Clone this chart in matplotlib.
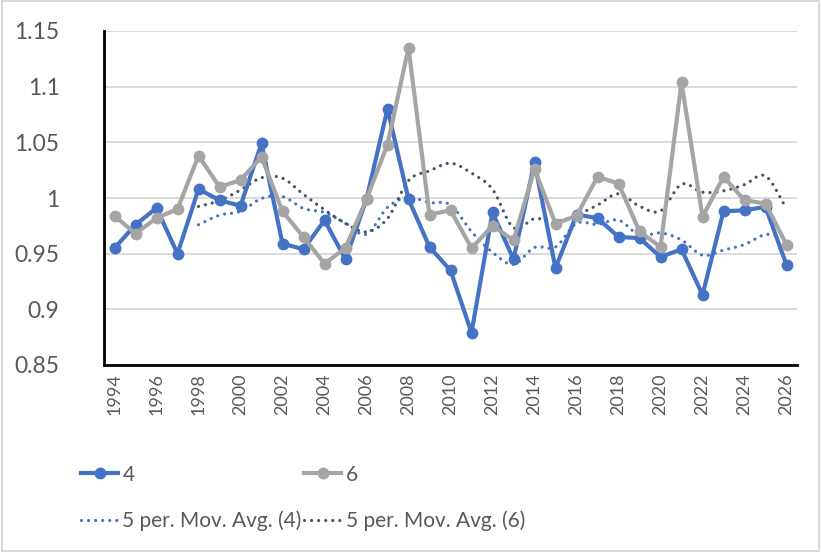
import numpy as np
import matplotlib.pyplot as plt

years = list(range(1994, 2027))
s4 = [0.955, 0.976, 0.991, 0.950, 1.008, 0.998, 0.993, 1.049, 0.959, 0.954,
      0.980, 0.945, 0.999, 1.080, 0.999, 0.956, 0.935, 0.879, 0.987, 0.945,
      1.032, 0.937, 0.985, 0.982, 0.965, 0.964, 0.947, 0.954, 0.913, 0.988,
      0.989, 0.992, 0.940]
s6 = [0.984, 0.968, 0.982, 0.990, 1.038, 1.010, 1.016, 1.037, 0.988, 0.965,
      0.941, 0.955, 0.999, 1.048, 1.135, 0.985, 0.989, 0.955, 0.975, 0.962,
      1.026, 0.977, 0.984, 1.019, 1.013, 0.970, 0.956, 1.104, 0.983, 1.019,
      0.998, 0.995, 0.958]
xlabels = [str(y) if y % 2 == 0 else '' for y in years]

BLUE = '#4472C4'
GRAY = '#A5A5A5'
DARK = '#44546A'
TXT = '#595959'


def moving_avg(v, n=5):
    v = np.asarray(v)
    return np.convolve(v, np.ones(n) / n, mode='valid')


def smooth(x, y, steps=12):
    '''catmull-rom, roughly like excel smoothed lines'''
    x = np.asarray(x, float)
    y = np.asarray(y, float)
    px = np.concatenate([[2 * x[0] - x[1]], x, [2 * x[-1] - x[-2]]])
    py = np.concatenate([[2 * y[0] - y[1]], y, [2 * y[-1] - y[-2]]])
    ox, oy = [], []
    t = np.linspace(0, 1, steps, endpoint=False)
    for i in range(1, len(px) - 2):
        for arr, out in ((px, ox), (py, oy)):
            p0, p1, p2, p3 = arr[i - 1], arr[i], arr[i + 1], arr[i + 2]
            out.extend(0.5 * (2 * p1 + (-p0 + p2) * t
                              + (2 * p0 - 5 * p1 + 4 * p2 - p3) * t ** 2
                              + (-p0 + 3 * p1 - 3 * p2 + p3) * t ** 3))
    ox.append(x[-1])
    oy.append(y[-1])
    return ox, oy


plt.rcParams['font.family'] = ['Lato', 'DejaVu Sans']

fig = plt.figure(figsize=(8.21, 5.52), dpi=100)
ax = fig.add_axes([104 / 821, 1 - 365 / 552, 693 / 821, 334 / 552])

x = np.arange(len(years))
l4, = ax.plot(x, s4, color=BLUE, lw=3, marker='o', ms=7.5, zorder=3)
l6, = ax.plot(x, s6, color=GRAY, lw=3, marker='o', ms=7.5, zorder=3)

dots = (0, (0.01, 2.2))
mx = x[4:]
sx, sy = smooth(mx, moving_avg(s4))
m4, = ax.plot(sx, sy, color=BLUE, lw=2.3, ls=dots, dash_capstyle='round', zorder=2)
sx, sy = smooth(mx, moving_avg(s6))
m6, = ax.plot(sx, sy, color=DARK, lw=2.3, ls=dots, dash_capstyle='round', zorder=2)

ax.set_xlim(-0.5, len(years) - 0.5)
ax.set_ylim(0.85, 1.15)
ax.set_yticks(np.arange(0.85, 1.1501, 0.05))
ax.set_yticklabels(['0.85', '0.9', '0.95', '1', '1.05', '1.1', '1.15'])
ax.set_xticks(x)
ax.set_xticklabels(xlabels, rotation=90)
ax.tick_params(axis='y', length=0, pad=32, labelsize=16.5, labelcolor=TXT)
ax.tick_params(axis='x', length=0, pad=6, labelsize=13, labelcolor=TXT)
ax.grid(axis='y', color='#D9D9D9', lw=1.3)
ax.set_axisbelow(True)
for s in ('top', 'right'):
    ax.spines[s].set_visible(False)
for s in ('left', 'bottom'):
    ax.spines[s].set_linewidth(2)
    ax.spines[s].set_color('black')

fig.legend([l4, m4, l6, m6],
           ['4', '5 per. Mov. Avg. (4)', '6', '5 per. Mov. Avg. (6)'],
           ncol=2, loc='upper left', bbox_to_anchor=(62 / 821, 1 - 446 / 552),
           frameon=False, fontsize=15, labelcolor=TXT, handlelength=1.8,
           handletextpad=0.2, columnspacing=0.1, labelspacing=1.25)

fig.patches.append(plt.Rectangle((0.002, 0.002), 0.996, 0.996, transform=fig.transFigure,
                                 fill=False, edgecolor='#D9D9D9', lw=1.5))

plt.savefig('out.png', dpi=100)
